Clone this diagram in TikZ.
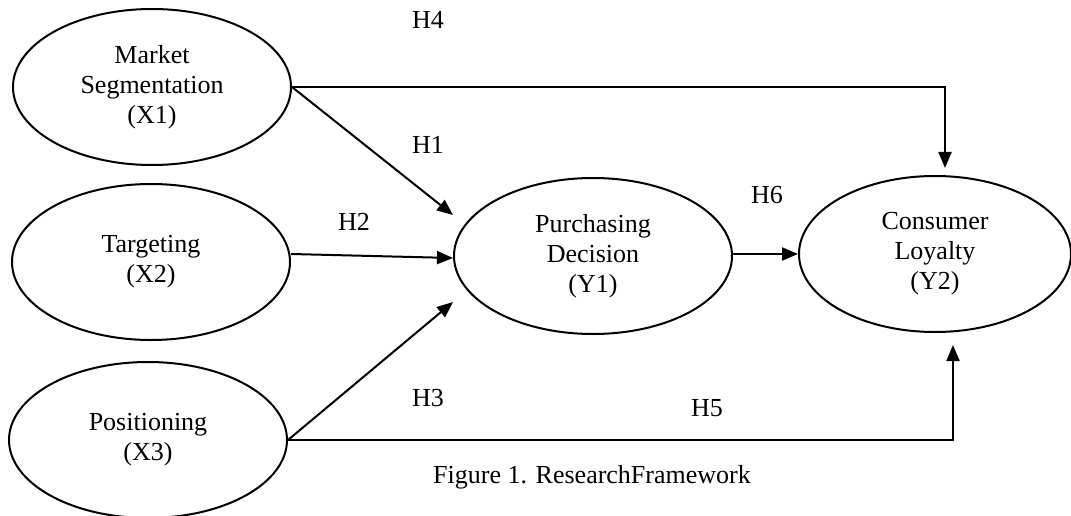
\documentclass[tikz,border=0pt]{standalone}
\usepackage{fontspec}
\setmainfont{Liberation Serif}
\usetikzlibrary{arrows.meta,shapes.geometric}

\begin{document}
\begin{tikzpicture}[x=1pt, y=-1pt,
	var/.style={ellipse, draw, line width=2pt, minimum width=278pt, minimum height=156pt, inner sep=0pt, align=center},
	link/.style={->, line width=2pt, >={Triangle[length=16pt, width=13pt]}},
	every node/.style={font=\fontsize{26}{30}\selectfont, text=black}
	]
	\useasboundingbox (0,0) rectangle (1071,516);
	
	% Exogenous variables
	\node[var] (X1) at (152,87) {Market\\Segmentation\\(X1)};
	\node[var] (X2) at (151,262) {Targeting\\(X2)};
	\node[var] (X3) at (148,440) {Positioning\\(X3)};
	
	% Endogenous variables
	\node[var] (Y1) at (593,256) {Purchasing\\Decision\\(Y1)};
	\node[var, minimum width=272pt] (Y2) at (935,254) {Consumer\\Loyalty\\(Y2)};
	
	% Paths to Y1
	\draw[link] (X1.east) -- ([yshift=41pt]Y1.west);
	\draw[link] ([yshift=8pt]X2.east) -- ([yshift=-2pt]Y1.west);
	\draw[link] (X3.east) -- ([yshift=-46pt]Y1.west);
	
	% Paths to Y2
	\draw[link] (X1.east) -| ([xshift=10pt,yshift=7pt]Y2.north);
	\draw[link] (X3.east) -| ([xshift=18pt,yshift=-12pt]Y2.south);
	\draw[link] ([yshift=2pt]Y1.east) -- (Y2.west);
	
	% Hypotheses
	\node (H4) at (428,20) {H4};
	\node (H1) at (428,145) {H1};
	\node (H2) at (354,222) {H2};
	\node (H3) at (428,398) {H3};
	\node (H5) at (707,408) {H5};
	\node (H6) at (767,195) {H6};
	
	% Caption
	\node (caption) at (592,477) {Figure 1. ResearchFramework};
	
\end{tikzpicture}
\end{document}
